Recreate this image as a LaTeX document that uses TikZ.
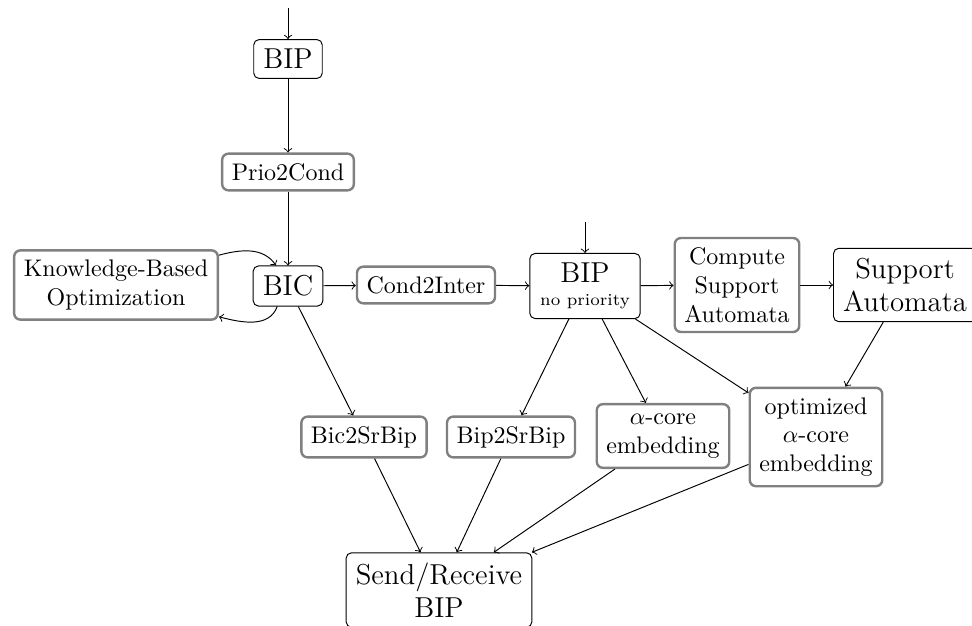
\documentclass[tikz,border=0pt]{standalone}
\usetikzlibrary{positioning}
\begin{document}
\begin{tikzpicture}[x=0.41667pt, y=-0.41667pt,
  blackbox/.style={draw=black, line width=0.4pt, rounded corners=2.2pt, inner sep=4pt, align=center},
  graybox/.style={draw=gray, line width=1pt, rounded corners=2.6pt, inner sep=4pt, align=center},
  arr/.style={->, line width=0.4pt}]
\useasboundingbox (0,0) rectangle (972,626);
\node[blackbox, font=\large] (bip) at (288,59) {BIP};
\node[graybox] (prio) at (288,172) {Prio2Cond};
\node[blackbox, font=\large] (bic) at (288,286) {BIC};
\node[graybox] (kbo) at (116,285) {Knowledge-Based\\Optimization};
\node[graybox] (cond) at (426,285) {Cond2Inter};
\node[blackbox, minimum width=46pt] (bipnp) at (585,286) {\large BIP\\[-2.5pt]\scriptsize no priority};
\node[graybox] (csa) at (737,285) {Compute\\Support\\Automata};
\node[blackbox, font=\large] (sa) at (905,285) {Support\\Automata};
\node[graybox] (bic2) at (364,437) {Bic2SrBip};
\node[graybox] (bip2) at (511,437) {Bip2SrBip};
\node[graybox] (acore) at (663,436) {$\alpha$-core\\embedding};
\node[graybox] (opt) at (816,437) {optimized\\$\alpha$-core\\embedding};
\node[blackbox, font=\large] (sr) at (439,590) {Send/Receive\\BIP};
\coordinate (in1) at (288,8);
\coordinate (in2) at (585,222);
\draw[arr] (in1) -- (bip);
\draw[arr] (bip) -- (prio);
\draw[arr] (prio) -- (bic);
\draw[arr] (in2) -- (bipnp);
\draw[arr] ([yshift=-2.5pt]kbo.north east) to[out=15,in=125] ([xshift=-5pt]bic.north);
\draw[arr] ([xshift=-4.5pt]bic.south) to[out=-110,in=-15] ([yshift=1.7pt]kbo.south east);
\draw[arr] (bic) -- (cond);
\draw[arr] (cond) -- (bipnp);
\draw[arr] (bipnp) -- (csa);
\draw[arr] (csa) -- (sa);
\draw[arr] (bic) -- (bic2);
\draw[arr] (bipnp) -- (bip2);
\draw[arr] (bipnp) -- (acore);
\draw[arr] (bipnp) -- (opt);
\draw[arr] (sa) -- (opt);
\draw[arr] (bic2) -- (sr);
\draw[arr] (bip2) -- (sr);
\draw[arr] (acore) -- (sr);
\draw[arr] (opt) -- (sr);
\end{tikzpicture}
\end{document}
